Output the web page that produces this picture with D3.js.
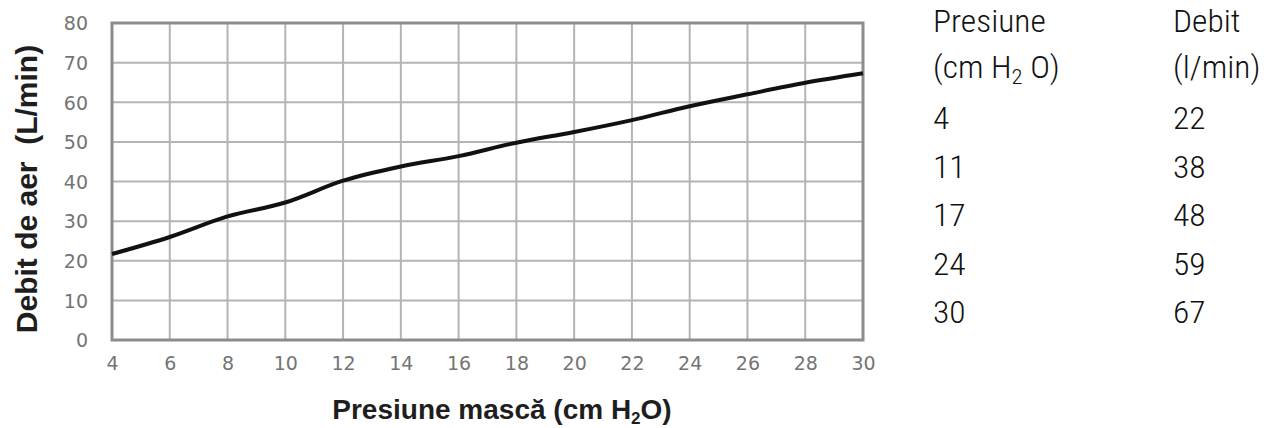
<!DOCTYPE html>
<html>
<head>
<meta charset="utf-8">
<script src="https://cdn.jsdelivr.net/npm/d3@7"></script>
<style>
  body { margin: 0; background: #fff; }
  svg { display: block; }
</style>
</head>
<body>
<script>
// curve
var presiune = [4, 6, 8, 10, 12, 14, 16, 18, 20, 22, 24, 26, 28, 30];
var debit = [21.7, 26, 31.2, 34.7, 40.2, 43.8, 46.4, 49.8, 52.5, 55.5, 59, 62, 64.9, 67.3];

var xTicks = [4, 6, 8, 10, 12, 14, 16, 18, 20, 22, 24, 26, 28, 30];
var yTicks = [0, 10, 20, 30, 40, 50, 60, 70, 80];

// table on the right
var tabelPresiune = ["4", "11", "17", "24", "30"];
var tabelDebit = ["22", "38", "48", "59", "67"];

var width = 1268, height = 428;
var svg = d3.select("body").append("svg")
  .attr("width", width)
  .attr("height", height);

var x = d3.scaleLinear().domain([4, 30]).range([112, 863]);
var y = d3.scaleLinear().domain([0, 80]).range([340, 23]);

// grid
svg.append("g")
  .selectAll("line")
  .data(xTicks)
  .enter()
  .append("line")
  .attr("x1", d => x(d)).attr("x2", d => x(d))
  .attr("y1", y(80)).attr("y2", y(0))
  .attr("stroke", "#b4b4b4")
  .attr("stroke-width", 2);

svg.append("g")
  .selectAll("line")
  .data(yTicks)
  .enter()
  .append("line")
  .attr("x1", x(4)).attr("x2", x(30))
  .attr("y1", d => y(d)).attr("y2", d => y(d))
  .attr("stroke", "#b4b4b4")
  .attr("stroke-width", 2);

svg.append("rect")
  .attr("x", x(4)).attr("y", y(80))
  .attr("width", x(30) - x(4))
  .attr("height", y(0) - y(80))
  .attr("fill", "none")
  .attr("stroke", "#8c8c8c")
  .attr("stroke-width", 3);

// axes, only labels
var xAxis = svg.append("g")
  .attr("transform", "translate(0," + (y(0) + 16) + ")")
  .call(d3.axisBottom(x).tickValues(xTicks).tickSize(0).tickPadding(0));
var yAxis = svg.append("g")
  .attr("transform", "translate(" + (x(4) - 24) + ",0)")
  .call(d3.axisLeft(y).tickValues(yTicks).tickSize(0).tickPadding(0));

[xAxis, yAxis].forEach(function (g) {
  g.select(".domain").remove();
  g.selectAll("text")
    .attr("font-family", "DejaVu Sans, Verdana, sans-serif")
    .attr("font-size", 19)
    .attr("fill", "#747474");
});
xAxis.selectAll("text").attr("dy", "0.71em");
yAxis.selectAll("text").attr("dy", "0.36em");

// curve
var line = d3.line()
  .x((d, i) => x(presiune[i]))
  .y(d => y(d))
  .curve(d3.curveMonotoneX);

svg.append("path")
  .datum(debit)
  .attr("d", line)
  .attr("fill", "none")
  .attr("stroke", "#111")
  .attr("stroke-width", 4)
  .attr("stroke-linejoin", "round");

// axis titles
var xTitle = svg.append("text")
  .attr("x", 502).attr("y", 419)
  .attr("text-anchor", "middle")
  .attr("font-family", "Liberation Sans, Arial, sans-serif")
  .attr("font-weight", "bold")
  .attr("font-size", 28)
  .attr("fill", "#1e1e1e");
xTitle.append("tspan").text("Presiune mască (cm H");
xTitle.append("tspan").attr("font-size", 17).attr("dy", 5).text("2");
xTitle.append("tspan").attr("dy", -5).text("O)");

svg.append("text")
  .attr("transform", "translate(37,189) rotate(-90)")
  .attr("text-anchor", "middle")
  .attr("font-family", "Liberation Sans, Arial, sans-serif")
  .attr("font-weight", "bold")
  .attr("font-size", 30)
  .attr("fill", "#1e1e1e")
  .attr("xml:space", "preserve")
  .text("Debit de aer  (L/min)");

// table
var tab = svg.append("g")
  .attr("font-family", "Roboto Condensed, Roboto, sans-serif")
  .attr("font-weight", 300)
  .attr("font-size", 31)
  .attr("fill", "#111");

function cell(cx, cy) {
  return tab.append("text")
    .attr("transform", "translate(" + cx + "," + cy + ") scale(1.08,1)");
}

cell(933, 32).text("Presiune");
var h = cell(933, 78);
h.append("tspan").text("(cm H");
h.append("tspan").attr("font-size", 21).attr("dy", 6).text("2");
h.append("tspan").attr("dy", -6).text(" O)");

cell(1173, 32).text("Debit");
cell(1173, 78).text("(l/min)");

var rowY = d3.scaleLinear().domain([0, 4]).range([129, 323]);
tabelPresiune.forEach(function (v, i) {
  cell(933, rowY(i)).text(v);
  cell(1173, rowY(i)).text(tabelDebit[i]);
});
</script>
</body>
</html>
